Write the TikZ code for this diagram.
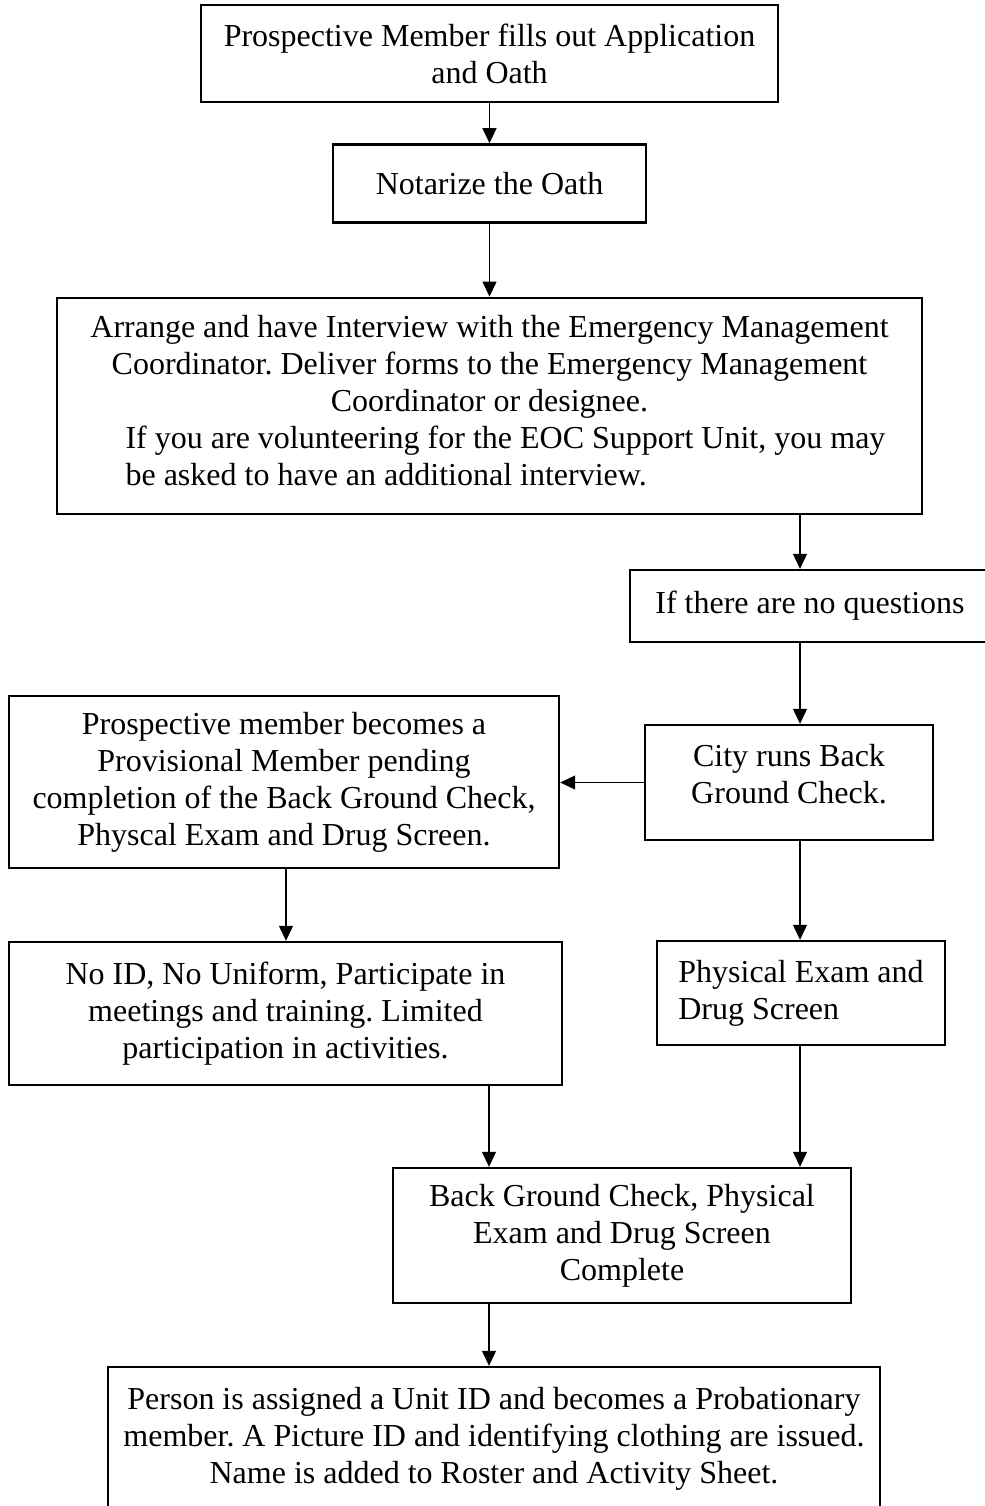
\documentclass[tikz,border=0pt]{standalone}
\usepackage{fontspec}
\setmainfont{Liberation Serif}
\usepackage{tikz}
\usetikzlibrary{arrows.meta,positioning}

\begin{document}
\frenchspacing
\begin{tikzpicture}[
    x=0.5pt, y=-0.5pt,
    box/.style={rectangle, draw, line width=1.2pt, align=center, inner sep=0pt, font=\fontsize{16}{18.5}\selectfont},
    arrow/.style={-{Triangle[width=7pt,length=7.5pt]}, line width=0.6pt}
]
\useasboundingbox (0,0) rectangle (985,1506);

% Columns for the connectors
\coordinate (lcol) at (286,0);
\coordinate (mcol) at (489,0);
\coordinate (rcol) at (800,0);

% Top chain
\node[box, minimum width=288.5pt, minimum height=48.5pt] (apply) at (489.5,53.5) {Prospective Member fills out Application\\and Oath};
\node[box, below=20pt of apply, minimum width=156.5pt, minimum height=39pt] (notary) {Notarize the Oath};
\node[box, below=36.5pt of notary, minimum width=432.5pt, minimum height=108pt] (interview) {Arrange and have Interview with the Emergency Management\\Coordinator. Deliver forms to the Emergency Management\\Coordinator or designee.\\\hspace*{16pt}\begin{tabular}[t]{@{}l@{}}If you are volunteering for the EOC Support Unit, you may\\be asked to have an additional interview.\end{tabular}};
\node[box, minimum width=180pt, minimum height=36pt] (noquest) at (810,606) {If there are no questions};

% Middle rows
\node[box, minimum width=275pt, minimum height=86pt] (provis) at (284,782) {Prospective member becomes a\\Provisional Member pending\\completion of the Back Ground Check,\\Physcal Exam and Drug Screen.};
\node[box, minimum width=144pt, minimum height=57.5pt] (citycheck) at (789,782.5) {City runs Back\\Ground Check.\\[-9.5pt]};
\node[box, minimum width=276.5pt, minimum height=71.5pt] (noid) at (285.5,1013.5) {No ID, No Uniform, Participate in\\meetings and training. Limited\\participation in activities.};
\node[box, minimum width=144pt, minimum height=52pt, align=left] (physical) at (801,993) {Physical Exam and\\Drug Screen};

% Bottom rows
\node[box, minimum width=229pt, minimum height=67.5pt] (complete) at (622,1235.5) {Back Ground Check, Physical\\Exam and Drug Screen\\Complete};
\node[box, minimum width=386pt, minimum height=72.5pt] (unitid) at (494,1439.5) {Person is assigned a Unit ID and becomes a Probationary\\member. A Picture ID and identifying clothing are issued.\\Name is added to Roster and Activity Sheet.\\[-14pt]};

% Arrows
\draw[arrow] (apply) -- (notary);
\draw[arrow] (notary) -- (interview);
\draw[arrow] (interview.south -| rcol) -- (noquest.north -| rcol);
\draw[arrow] (noquest.south -| rcol) -- (citycheck.north -| rcol);
\draw[arrow] (citycheck.west) -- (citycheck.west -| provis.east);
\draw[arrow] (provis.south -| lcol) -- (noid.north -| lcol);
\draw[arrow] (citycheck.south -| rcol) -- (physical.north -| rcol);
\draw[arrow] (noid.south -| mcol) -- (complete.north -| mcol);
\draw[arrow] (physical.south -| rcol) -- (complete.north -| rcol);
\draw[arrow] (complete.south -| mcol) -- (unitid.north -| mcol);

\end{tikzpicture}
\end{document}
